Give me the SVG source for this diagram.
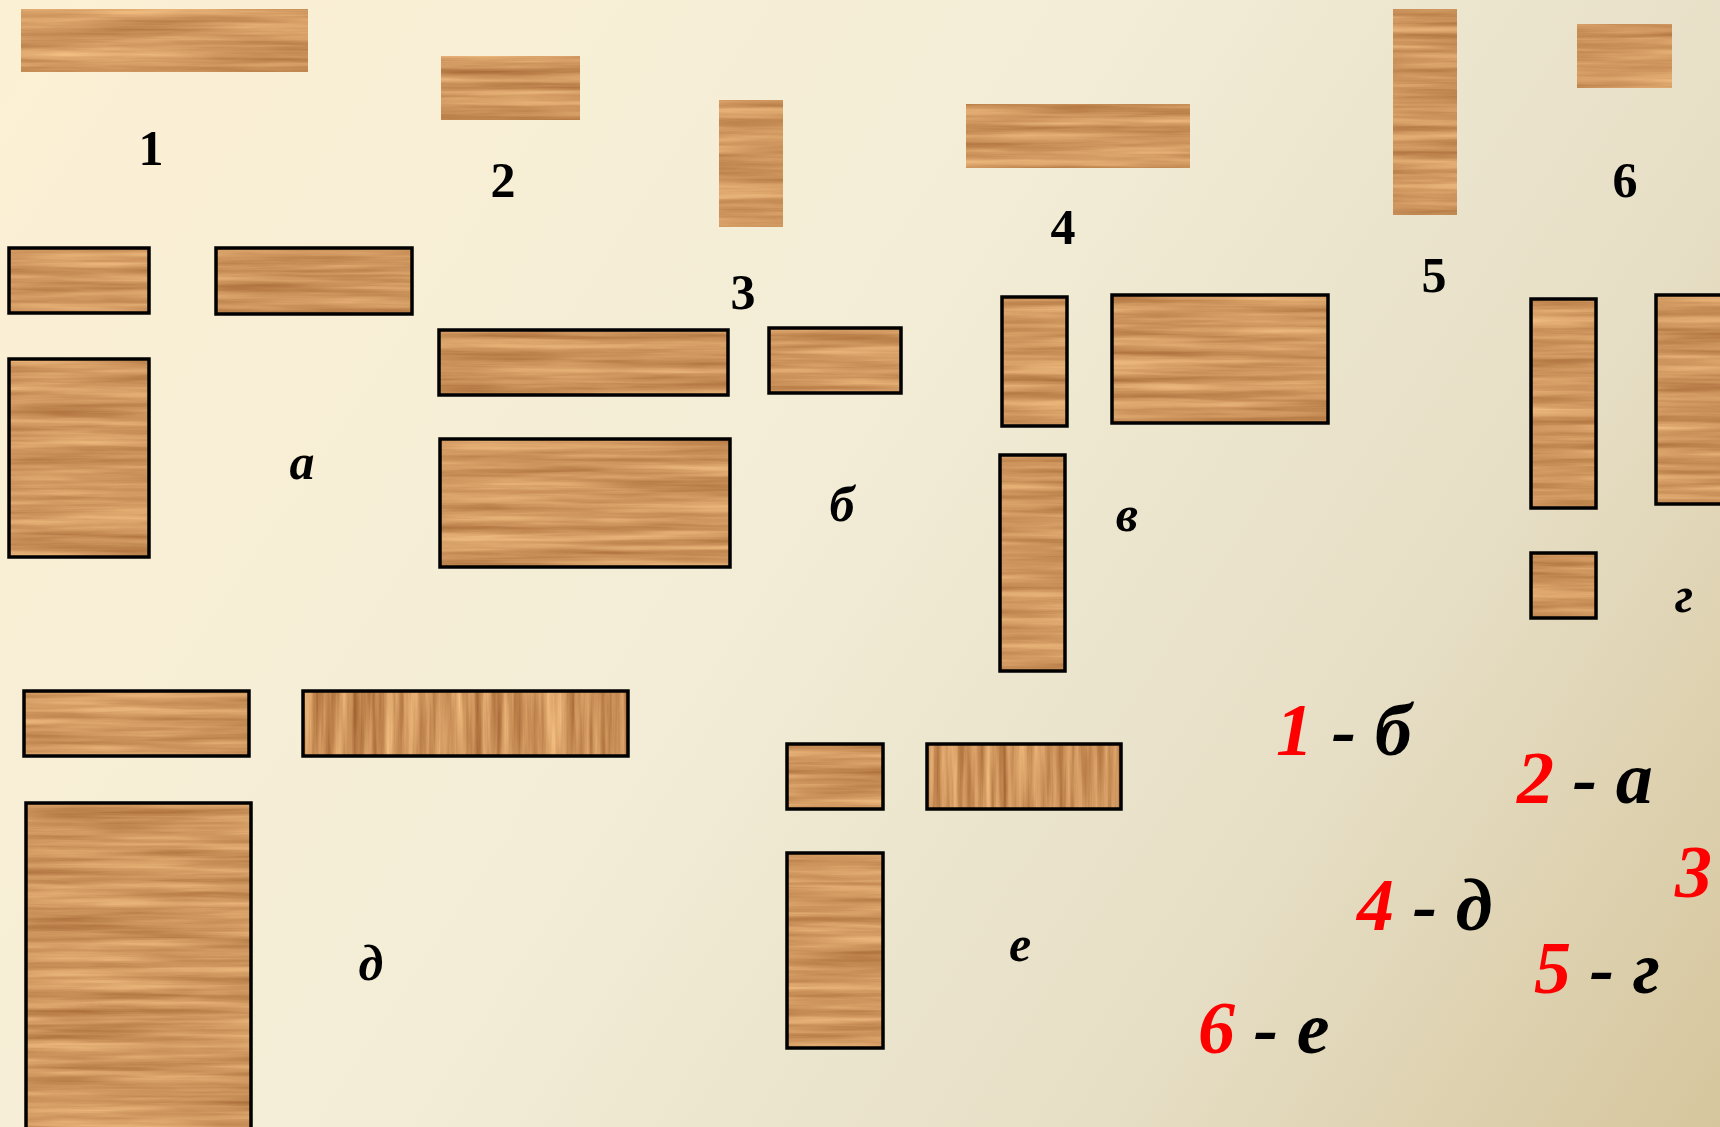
<svg xmlns="http://www.w3.org/2000/svg" width="1720" height="1127" viewBox="0 0 1720 1127">
<defs>
<linearGradient id="bg" x1="0" y1="0" x2="1720" y2="1127" gradientUnits="userSpaceOnUse">
<stop offset="0" stop-color="#FCF0D4"/>
<stop offset="0.45" stop-color="#F3EDD7"/>
<stop offset="0.75" stop-color="#E6DEC5"/>
<stop offset="1" stop-color="#D6C69D"/>
</linearGradient>
<filter id="wh" x="0" y="0" width="1" height="1" color-interpolation-filters="sRGB">
<feTurbulence type="fractalNoise" baseFrequency="0.005 0.12" numOctaves="4" seed="3"/>
<feColorMatrix values="0.34 0 0 0 0.64  0.38 0 0 0 0.4  0.34 0 0 0 0.2  0 0 0 0 1"/>
<feComposite operator="in" in2="SourceGraphic"/>
</filter>
<filter id="wv" x="0" y="0" width="1" height="1" color-interpolation-filters="sRGB">
<feTurbulence type="fractalNoise" baseFrequency="0.12 0.005" numOctaves="4" seed="5"/>
<feColorMatrix values="0.45 0 0 0 0.58  0.5 0 0 0 0.33  0.44 0 0 0 0.14  0 0 0 0 1"/>
<feComposite operator="in" in2="SourceGraphic"/>
</filter>
<style>
.w{fill:#D09A62;filter:url(#wh)}
.wv{fill:#D09A62;filter:url(#wv)}
.b{fill:none;stroke:#000;stroke-width:3.5}
.n{font-family:"Liberation Serif","Times New Roman",serif;font-weight:bold;font-size:50px;fill:#000;text-anchor:middle}
.l{font-family:"Liberation Serif","Times New Roman",serif;font-weight:bold;font-style:italic;font-size:50px;fill:#000;text-anchor:middle}
.ans{font-family:"Liberation Serif","Times New Roman",serif;font-weight:bold;font-style:italic;font-size:74px;fill:#000}
.r{fill:#FF0000}
</style>
</defs>
<rect width="1720" height="1127" fill="url(#bg)"/>

<g id="piece1"><rect class="w" x="21" y="9" width="287" height="63"/><text class="n" x="151" y="165">1</text></g>
<g id="piece2"><rect class="w" x="441" y="56" width="139" height="64"/><text class="n" x="503" y="197">2</text></g>
<g id="piece3"><rect class="w" x="719" y="100" width="64" height="127"/><text class="n" x="743" y="309">3</text></g>
<g id="piece4"><rect class="w" x="966" y="104" width="224" height="64"/><text class="n" x="1063" y="244">4</text></g>
<g id="piece5"><rect class="w" x="1393" y="9" width="64" height="206"/><text class="n" x="1434" y="292">5</text></g>
<g id="piece6"><rect class="w" x="1577" y="24" width="95" height="64"/><text class="n" x="1625" y="197">6</text></g>

<g id="view-a">
<rect class="w" x="9" y="248" width="140" height="65"/><rect class="b" x="9" y="248" width="140" height="65"/>
<rect class="w" x="216" y="248" width="196" height="66"/><rect class="b" x="216" y="248" width="196" height="66"/>
<rect class="w" x="9" y="359" width="140" height="198"/><rect class="b" x="9" y="359" width="140" height="198"/>
<text class="l" x="302" y="479">а</text>
</g>
<g id="view-b">
<rect class="w" x="439" y="330" width="289" height="65"/><rect class="b" x="439" y="330" width="289" height="65"/>
<rect class="w" x="769" y="328" width="132" height="65"/><rect class="b" x="769" y="328" width="132" height="65"/>
<rect class="w" x="440" y="439" width="290" height="128"/><rect class="b" x="440" y="439" width="290" height="128"/>
<text class="l" x="842" y="521">б</text>
</g>
<g id="view-v">
<rect class="w" x="1002" y="297" width="65" height="129"/><rect class="b" x="1002" y="297" width="65" height="129"/>
<rect class="w" x="1112" y="295" width="216" height="128"/><rect class="b" x="1112" y="295" width="216" height="128"/>
<rect class="w" x="1000" y="455" width="65" height="216"/><rect class="b" x="1000" y="455" width="65" height="216"/>
<text class="l" x="1127" y="531">в</text>
</g>
<g id="view-g">
<rect class="w" x="1531" y="299" width="65" height="209"/><rect class="b" x="1531" y="299" width="65" height="209"/>
<rect class="w" x="1656" y="295" width="70" height="209"/><rect class="b" x="1656" y="295" width="70" height="209"/>
<rect class="w" x="1531" y="553" width="65" height="65"/><rect class="b" x="1531" y="553" width="65" height="65"/>
<text class="l" x="1684" y="612">г</text>
</g>
<g id="view-d">
<rect class="w" x="24" y="691" width="225" height="65"/><rect class="b" x="24" y="691" width="225" height="65"/>
<rect class="wv" x="303" y="691" width="325" height="65"/><rect class="b" x="303" y="691" width="325" height="65"/>
<rect class="w" x="26" y="803" width="225" height="330"/><rect class="b" x="26" y="803" width="225" height="330"/>
<text class="l" x="371" y="980">д</text>
</g>
<g id="view-e">
<rect class="w" x="787" y="744" width="96" height="65"/><rect class="b" x="787" y="744" width="96" height="65"/>
<rect class="wv" x="927" y="744" width="194" height="65"/><rect class="b" x="927" y="744" width="194" height="65"/>
<rect class="w" x="787" y="853" width="96" height="195"/><rect class="b" x="787" y="853" width="96" height="195"/>
<text class="l" x="1020" y="961">е</text>
</g>

<g id="answers">
<text class="ans" x="1276" y="755"><tspan class="r">1</tspan> - б</text>
<text class="ans" x="1517" y="803"><tspan class="r">2</tspan> - а</text>
<text class="ans" x="1675" y="897"><tspan class="r">3</tspan></text>
<text class="ans" x="1357" y="930"><tspan class="r">4</tspan> - д</text>
<text class="ans" x="1534" y="993"><tspan class="r">5</tspan> - г</text>
<text class="ans" x="1198" y="1053"><tspan class="r">6</tspan> - е</text>
</g>
</svg>
